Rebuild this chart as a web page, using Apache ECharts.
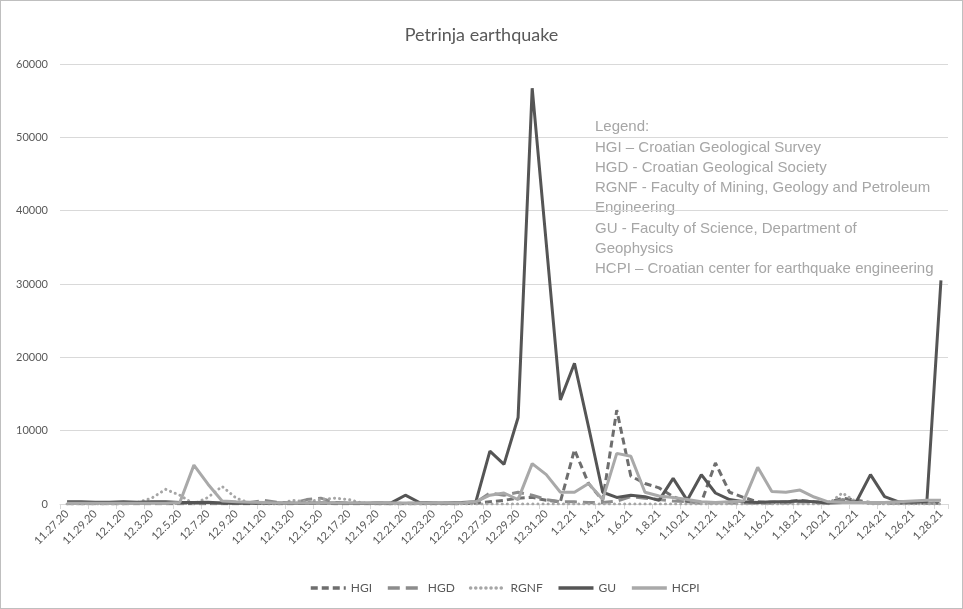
<!DOCTYPE html>
<html>
<head>
<meta charset="utf-8">
<title>Petrinja earthquake</title>
<script src="https://cdn.jsdelivr.net/npm/echarts@6/dist/echarts.min.js"></script>
<style>
  html, body { margin: 0; padding: 0; background: #ffffff; }
  #chart { width: 961px; height: 607px; border: 1px solid #bfbfbf; }
</style>
</head>
<body>
<div id="chart"></div>
<script>
// Daily dates, 27 Nov 2020 – 28 Jan 2021
const dates = [
  '11.27.20','11.28.20','11.29.20','11.30.20',
  '12.1.20','12.2.20','12.3.20','12.4.20','12.5.20','12.6.20','12.7.20','12.8.20','12.9.20','12.10.20',
  '12.11.20','12.12.20','12.13.20','12.14.20','12.15.20','12.16.20','12.17.20','12.18.20','12.19.20','12.20.20',
  '12.21.20','12.22.20','12.23.20','12.24.20','12.25.20','12.26.20','12.27.20','12.28.20','12.29.20','12.30.20','12.31.20',
  '1.1.21','1.2.21','1.3.21','1.4.21','1.5.21','1.6.21','1.7.21','1.8.21','1.9.21','1.10.21',
  '1.11.21','1.12.21','1.13.21','1.14.21','1.15.21','1.16.21','1.17.21','1.18.21','1.19.21','1.20.21',
  '1.21.21','1.22.21','1.23.21','1.24.21','1.25.21','1.26.21','1.27.21','1.28.21'
];

const hgi = [
  50,50,50,50, 50,50,50,50,50,50,50,50,50,50,
  100,50,50,100,100,50,50,50,50,50,
  50,50,50,50,50,100,300,500,800,900,500,
  300,7400,2800,500,12800,3800,2800,2200,1000,300,
  200,5600,1600,900,300,200,300,500,300,200,
  800,500,200,200,100,100,100,100
];

const hgd = [
  100,100,100,100, 100,100,100,100,100,100,100,100,100,200,
  500,200,100,600,800,200,100,100,100,100,
  100,100,100,100,100,200,1500,1200,1600,1200,600,
  300,300,200,200,400,1000,800,600,400,300,
  100,200,150,150,100,100,150,300,200,100,
  600,300,150,100,100,100,100,100
];

const rgnf = [
  0,0,0,0, 0,200,800,2000,1200,0,900,2400,800,100,
  0,0,500,300,600,800,600,100,0,0,
  0,0,0,0,0,0,0,0,0,0,0,
  0,0,0,0,0,0,0,0,0,0,
  0,0,0,0,0,0,0,0,0,0,
  1500,300,0,0,0,0,0,0
];

const gu = [
  300,300,250,250, 300,250,300,300,200,200,250,150,100,100,
  150,150,100,100,150,150,100,100,150,150,
  1200,200,150,150,200,300,7200,5400,11800,56700,35500,
  14200,19200,10500,1600,900,1200,1000,500,3500,500,
  4000,1500,600,300,200,300,300,400,300,150,
  200,300,4000,1000,300,250,300,30500
];

const hcpi = [
  100,100,100,100, 100,100,100,100,200,5300,2700,400,300,250,
  200,150,150,150,150,150,150,150,150,150,
  150,150,150,150,150,300,1200,1500,600,5500,4000,
  1600,1600,2800,600,6900,6500,1600,1100,900,600,
  300,200,300,400,5000,1700,1600,1900,950,300,
  200,200,200,200,300,400,500,500
];

const yTicks = { min: 0, max: 60000, step: 10000 };

const glossary = [
  'Legend:',
  'HGI \u2013 Croatian Geological Survey',
  'HGD - Croatian Geological Society',
  'RGNF - Faculty of Mining, Geology and Petroleum',
  'Engineering',
  'GU - Faculty of Science, Department of',
  'Geophysics',
  'HCPI \u2013 Croatian center for earthquake engineering'
];

const chart = echarts.init(document.getElementById('chart'), null, { renderer: 'canvas' });

const FONT = 'Lato, "Open Sans", sans-serif';

function lineSeries(name, data, color, type, cap) {
  return {
    name: name,
    type: 'line',
    data: data,
    symbol: 'none',
    smooth: false,
    animation: false,
    lineStyle: { color: color, width: 3, type: type, cap: cap || 'butt' },
    itemStyle: { color: color }
  };
}

chart.setOption({
  backgroundColor: '#ffffff',
  animation: false,
  title: {
    text: 'Petrinja earthquake',
    left: 'center',
    top: 20,
    textStyle: { fontFamily: FONT, fontSize: 18, fontWeight: 'normal', color: '#595959' }
  },
  grid: { left: 59, right: 14, top: 63, bottom: 104, containLabel: false },
  legend: {
    bottom: 9,
    left: 303,
    itemWidth: 35,
    itemHeight: 3,
    itemGap: 14,
    itemStyle: { opacity: 0 },
    lineStyle: { width: 3.5 },
    textStyle: { fontFamily: FONT, fontSize: 12, color: '#595959' },
    data: ['HGI', 'HGD', 'RGNF', 'GU', 'HCPI']
  },
  xAxis: {
    type: 'category',
    data: dates,
    boundaryGap: true,
    axisLine: { lineStyle: { color: '#d9d9d9', width: 1 } },
    axisTick: { show: true, interval: 1, length: 5, lineStyle: { color: '#d9d9d9' } },
    axisLabel: {
      interval: 1,
      rotate: 45,
      margin: 8,
      fontFamily: FONT,
      fontSize: 11,
      color: '#595959'
    }
  },
  yAxis: {
    type: 'value',
    min: yTicks.min,
    max: yTicks.max,
    interval: yTicks.step,
    axisLine: { show: false },
    axisTick: { show: false },
    splitLine: { lineStyle: { color: '#d9d9d9', width: 1 } },
    axisLabel: {
      fontFamily: FONT, fontSize: 11, color: '#595959', margin: 12,
      formatter: function (v) { return String(v); }
    }
  },
  graphic: [{
    type: 'text',
    left: 594,
    top: 116,
    silent: true,
    style: {
      text: glossary.join('\n'),
      font: '15px "Liberation Sans", Arial, sans-serif',
      lineHeight: 20.3,
      fill: '#a6a6a6'
    }
  }],
  series: [
    lineSeries('HGI', hgi, '#6e6e6e', [7, 4]),
    lineSeries('HGD', hgd, '#8c8c8c', [12, 6]),
    lineSeries('RGNF', rgnf, '#a6a6a6', [0.1, 5], 'round'),
    lineSeries('GU', gu, '#555555', 'solid'),
    lineSeries('HCPI', hcpi, '#a9a9a9', 'solid')
  ]
});
</script>
</body>
</html>
